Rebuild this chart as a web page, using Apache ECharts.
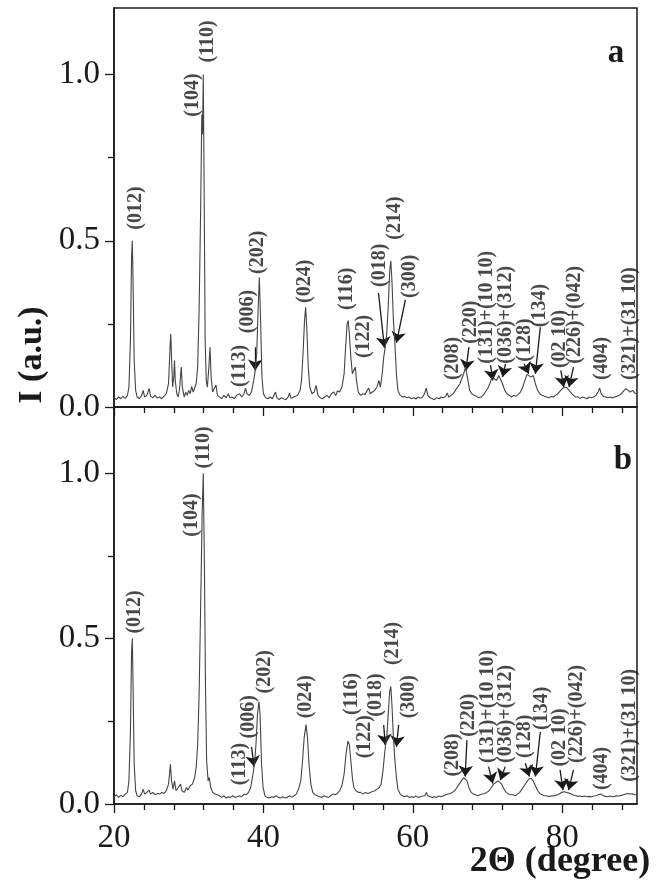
<!DOCTYPE html>
<html>
<head>
<meta charset="utf-8">
<script src="https://cdn.jsdelivr.net/npm/echarts@6/dist/echarts.min.js"></script>
<style>
html, body { margin: 0; padding: 0; background: #fff; }
#chart { width: 665px; height: 883px; }
</style>
</head>
<body>
<div id="chart"></div>
<script>
// pattern a: [2theta, intensity]
var patternA = [
	[20.0,0.028],[20.3,0.022],[20.6,0.030],[20.9,0.025],[21.2,0.032],[21.5,0.026],[21.8,0.035],[22.0,0.06],[22.2,0.2],[22.35,0.45],[22.45,0.50],[22.55,0.38],[22.7,0.14],[22.9,0.05],
	[23.1,0.03],[23.4,0.025],[23.7,0.035],[23.9,0.05],[24.1,0.03],[24.4,0.035],[24.7,0.056],[24.9,0.032],[25.2,0.028],[25.5,0.035],[25.8,0.027],[26.1,0.030],[26.4,0.025],[26.7,0.033],
	[27.0,0.04],[27.3,0.07],[27.5,0.18],[27.6,0.22],[27.7,0.15],[27.85,0.06],[28.0,0.09],[28.1,0.14],[28.2,0.08],[28.4,0.04],[28.6,0.03],[28.8,0.06],[29.0,0.12],[29.15,0.06],
	[29.4,0.03],[29.6,0.045],[29.8,0.035],[30.0,0.05],[30.2,0.04],[30.4,0.062],[30.6,0.045],[30.8,0.05],[31.0,0.07],[31.2,0.12],[31.4,0.3],[31.6,0.6],[31.75,0.88],[31.85,0.82],
	[31.95,1.0],[32.05,0.7],[32.2,0.2],[32.35,0.08],[32.5,0.06],[32.7,0.12],[32.85,0.18],[33.0,0.09],[33.2,0.045],[33.4,0.04],[33.65,0.066],[33.85,0.035],[34.1,0.03],[34.4,0.025],
	[34.7,0.035],[35.0,0.028],[35.3,0.04],[35.5,0.028],[35.8,0.03],[36.1,0.025],[36.4,0.035],[36.8,0.04],[37.1,0.03],[37.4,0.04],[37.6,0.057],[37.8,0.04],[38.1,0.035],[38.4,0.045],
	[38.7,0.08],[38.9,0.11],[39.1,0.16],[39.3,0.3],[39.45,0.39],[39.6,0.28],[39.8,0.09],[40.0,0.04],[40.3,0.028],[40.6,0.025],[40.9,0.03],[41.2,0.025],[41.4,0.03],[41.6,0.045],
	[41.8,0.028],[42.1,0.022],[42.4,0.028],[42.7,0.025],[43.0,0.022],[43.3,0.03],[43.5,0.042],[43.7,0.026],[44.0,0.03],[44.3,0.032],[44.6,0.036],[44.9,0.05],[45.1,0.08],[45.3,0.16],
	[45.5,0.26],[45.65,0.30],[45.8,0.24],[46.0,0.12],[46.2,0.06],[46.5,0.04],[46.8,0.045],[47.05,0.065],[47.3,0.035],[47.6,0.028],[47.9,0.025],[48.2,0.03],[48.5,0.035],[48.8,0.028],
	[49.1,0.04],[49.4,0.045],[49.7,0.035],[49.9,0.048],[50.2,0.045],[50.5,0.06],[50.8,0.1],[51.0,0.18],[51.2,0.25],[51.35,0.26],[51.5,0.22],[51.7,0.15],[51.9,0.1],[52.1,0.1],
	[52.3,0.12],[52.45,0.08],[52.7,0.045],[53.0,0.035],[53.3,0.04],[53.6,0.038],[53.9,0.05],[54.1,0.057],[54.3,0.04],[54.6,0.045],[54.9,0.05],[55.2,0.06],[55.45,0.08],[55.65,0.06],
	[55.9,0.1],[56.1,0.15],[56.3,0.18],[56.5,0.22],[56.7,0.3],[56.9,0.41],[57.05,0.44],[57.2,0.38],[57.4,0.26],[57.6,0.19],[57.8,0.1],[58.0,0.05],[58.3,0.035],[58.6,0.03],
	[58.9,0.032],[59.2,0.028],[59.5,0.03],[59.8,0.025],[60.1,0.028],[60.4,0.024],[60.7,0.03],[61.0,0.026],[61.3,0.03],[61.55,0.04],[61.8,0.057],[62.0,0.035],[62.3,0.028],[62.6,0.025],
	[62.9,0.022],[63.2,0.028],[63.5,0.025],[63.8,0.03],[64.1,0.028],[64.4,0.032],[64.6,0.042],[64.8,0.03],[65.1,0.035],[65.4,0.04],[65.7,0.05],[66.0,0.06],[66.3,0.07],[66.5,0.065],
	[66.8,0.1],[67.05,0.12],[67.3,0.09],[67.6,0.05],[67.9,0.04],[68.2,0.035],[68.5,0.032],[68.8,0.028],[69.1,0.03],[69.4,0.035],[69.7,0.045],[70.0,0.055],[70.3,0.07],[70.6,0.09],
	[70.9,0.085],[71.2,0.08],[71.5,0.095],[71.75,0.096],[72.0,0.07],[72.3,0.05],[72.6,0.04],[72.9,0.035],[73.2,0.03],[73.5,0.035],[73.8,0.032],[74.1,0.038],[74.4,0.045],[74.7,0.06],
	[75.0,0.08],[75.3,0.098],[75.55,0.10],[75.8,0.09],[76.1,0.095],[76.4,0.07],[76.7,0.05],[77.0,0.04],[77.3,0.035],[77.6,0.032],[77.9,0.03],[78.2,0.028],[78.5,0.032],[78.8,0.03],
	[79.1,0.035],[79.4,0.04],[79.7,0.048],[80.0,0.055],[80.3,0.06],[80.6,0.058],[80.9,0.05],[81.2,0.042],[81.5,0.035],[81.8,0.03],[82.1,0.03],[82.4,0.026],[82.7,0.03],[83.0,0.028],
	[83.3,0.025],[83.6,0.03],[83.9,0.028],[84.2,0.03],[84.5,0.035],[84.8,0.045],[85.0,0.057],[85.2,0.04],[85.5,0.032],[85.8,0.03],[86.1,0.028],[86.4,0.03],[86.7,0.027],[87.0,0.03],
	[87.3,0.032],[87.6,0.035],[87.9,0.04],[88.2,0.048],[88.5,0.055],[88.8,0.05],[89.1,0.045],[89.4,0.05],[89.7,0.042],[90.0,0.04]
];

// pattern b
var patternB = [
	[20.0,0.022],[20.3,0.028],[20.6,0.020],[20.9,0.026],[21.2,0.022],[21.5,0.03],[21.8,0.035],[22.0,0.07],[22.2,0.22],[22.35,0.46],[22.45,0.50],[22.55,0.36],[22.7,0.12],[22.9,0.04],
	[23.1,0.025],[23.4,0.022],[23.7,0.03],[23.9,0.045],[24.1,0.03],[24.4,0.035],[24.7,0.042],[24.9,0.03],[25.2,0.035],[25.5,0.028],[25.8,0.032],[26.1,0.03],[26.4,0.035],[26.7,0.032],
	[27.0,0.04],[27.3,0.06],[27.55,0.12],[27.7,0.07],[27.9,0.045],[28.1,0.07],[28.3,0.04],[28.6,0.05],[28.9,0.06],[29.1,0.04],[29.4,0.035],[29.7,0.05],[29.9,0.042],[30.2,0.055],
	[30.5,0.06],[30.8,0.08],[31.0,0.11],[31.2,0.18],[31.4,0.34],[31.6,0.6],[31.8,0.88],[31.95,1.0],[32.1,0.72],[32.25,0.35],[32.4,0.13],[32.6,0.07],[32.75,0.08],[32.95,0.05],
	[33.2,0.035],[33.5,0.03],[33.8,0.028],[34.1,0.025],[34.4,0.02],[34.7,0.025],[35.0,0.018],[35.3,0.022],[35.6,0.02],[35.9,0.025],[36.2,0.02],[36.5,0.022],[36.8,0.025],[37.1,0.022],
	[37.4,0.03],[37.7,0.028],[38.0,0.035],[38.3,0.05],[38.6,0.09],[38.8,0.12],[39.0,0.18],[39.2,0.27],[39.4,0.31],[39.55,0.27],[39.75,0.12],[39.95,0.05],[40.2,0.025],[40.5,0.02],
	[40.8,0.018],[41.1,0.022],[41.4,0.02],[41.7,0.025],[42.0,0.02],[42.3,0.018],[42.6,0.022],[42.9,0.018],[43.2,0.02],[43.5,0.025],[43.8,0.02],[44.1,0.025],[44.4,0.03],[44.7,0.045],
	[45.0,0.07],[45.2,0.12],[45.45,0.2],[45.7,0.24],[45.9,0.2],[46.1,0.12],[46.35,0.06],[46.6,0.035],[46.9,0.028],[47.2,0.025],[47.5,0.022],[47.8,0.02],[48.1,0.025],[48.4,0.022],
	[48.7,0.02],[49.0,0.025],[49.3,0.03],[49.6,0.028],[49.9,0.032],[50.2,0.04],[50.5,0.055],[50.8,0.09],[51.05,0.15],[51.3,0.19],[51.5,0.18],[51.7,0.13],[51.9,0.08],[52.1,0.05],
	[52.4,0.04],[52.7,0.035],[53.0,0.035],[53.3,0.03],[53.6,0.035],[53.8,0.04],[54.0,0.032],[54.3,0.035],[54.6,0.038],[54.9,0.04],[55.2,0.045],[55.5,0.05],[55.75,0.06],[56.0,0.1],
	[56.3,0.17],[56.5,0.2],[56.7,0.27],[56.9,0.34],[57.05,0.355],[57.2,0.3],[57.4,0.2],[57.6,0.13],[57.8,0.08],[58.0,0.045],[58.3,0.03],[58.6,0.025],[58.9,0.022],[59.2,0.025],
	[59.5,0.02],[59.8,0.022],[60.1,0.02],[60.4,0.024],[60.7,0.02],[61.0,0.022],[61.3,0.024],[61.6,0.025],[61.8,0.035],[62.0,0.025],[62.3,0.022],[62.6,0.02],[62.9,0.022],[63.2,0.02],
	[63.5,0.024],[63.8,0.022],[64.1,0.025],[64.4,0.028],[64.7,0.03],[65.0,0.032],[65.3,0.035],[65.6,0.04],[65.9,0.05],[66.2,0.06],[66.5,0.07],[66.8,0.08],[67.0,0.083],[67.25,0.07],
	[67.5,0.05],[67.8,0.035],[68.1,0.03],[68.4,0.028],[68.7,0.025],[69.0,0.028],[69.3,0.03],[69.6,0.032],[69.9,0.035],[70.2,0.04],[70.5,0.05],[70.8,0.06],[71.1,0.065],[71.4,0.07],
	[71.65,0.072],[71.9,0.06],[72.2,0.045],[72.5,0.035],[72.8,0.03],[73.1,0.028],[73.4,0.028],[73.7,0.025],[74.0,0.03],[74.3,0.035],[74.6,0.045],[74.9,0.055],[75.2,0.065],[75.5,0.075],
	[75.8,0.078],[76.1,0.07],[76.4,0.055],[76.7,0.04],[77.0,0.032],[77.3,0.028],[77.6,0.025],[77.9,0.025],[78.2,0.022],[78.5,0.025],[78.8,0.024],[79.1,0.026],[79.4,0.028],[79.7,0.032],
	[80.0,0.036],[80.3,0.037],[80.6,0.035],[80.9,0.033],[81.2,0.03],[81.5,0.027],[81.8,0.025],[82.1,0.023],[82.4,0.024],[82.7,0.022],[83.0,0.024],[83.3,0.022],[83.6,0.023],[83.9,0.022],
	[84.2,0.024],[84.5,0.025],[84.8,0.028],[85.0,0.033],[85.2,0.03],[85.5,0.025],[85.8,0.023],[86.1,0.022],[86.4,0.024],[86.7,0.022],[87.0,0.023],[87.3,0.025],[87.6,0.024],[87.9,0.026],
	[88.2,0.028],[88.5,0.03],[88.8,0.032],[89.1,0.03],[89.4,0.031],[89.7,0.028],[90.0,0.027]
];

// peak labels: [text, 2theta, intensity at label start]
var labelsA = [
	['(012)', 22.96, 0.533], ['(104)', 30.6, 0.873], ['(110)', 32.6, 1.036], ['(113)', 36.9, 0.06],
	['(006)', 37.9, 0.222], ['(202)', 39.3, 0.40], ['(024)', 45.6, 0.313], ['(116)', 51.2, 0.292],
	['(122)', 53.4, 0.147], ['(018)', 55.6, 0.361], ['(214)', 57.6, 0.503], ['(300)', 59.6, 0.328],
	['(208)', 65.4, 0.081], ['(220)', 67.7, 0.19], ['(131)+(10 10)', 69.9, 0.13], ['(036)+(312)', 72.4, 0.13],
	['(128)', 75.05, 0.136], ['(134)', 77.06, 0.24], ['(02 10)', 79.7, 0.117], ['(226)+(042)', 81.7, 0.13],
	['(404)', 85.3, 0.081], ['(321)+(31 10)', 89.1, 0.081]
];
var labelsB = [
	['(012)', 22.8, 0.515], ['(104)', 30.4, 0.808], ['(110)', 31.96, 1.014], ['(113)', 36.9, 0.057],
	['(006)', 38.0, 0.198], ['(202)', 40.2, 0.334], ['(024)', 45.7, 0.259], ['(116)', 51.8, 0.269],
	['(122)', 53.6, 0.138], ['(018)', 55.0, 0.264], ['(214)', 57.3, 0.42], ['(300)', 59.4, 0.259],
	['(208)', 65.4, 0.083], ['(220)', 67.5, 0.203], ['(131)+(10 10)', 70.1, 0.124], ['(036)+(312)', 72.4, 0.124],
	['(128)', 75.05, 0.139], ['(134)', 77.3, 0.224], ['(02 10)', 79.7, 0.113], ['(226)+(042)', 82.0, 0.124],
	['(404)', 85.3, 0.042], ['(321)+(31 10)', 89.1, 0.067]
];

// arrows: [x1, y1, x2, y2]
var arrowsA = [
	[38.9, 0.18, 38.9, 0.11], [55.4, 0.343, 56.2, 0.178], [59.0, 0.322, 57.8, 0.193], [67.5, 0.18, 67.1, 0.11],
	[70.4, 0.126, 70.7, 0.08], [72.4, 0.13, 72.0, 0.09], [74.9, 0.13, 75.5, 0.10], [77.06, 0.24, 76.4, 0.10],
	[79.8, 0.11, 80.2, 0.06], [81.5, 0.12, 80.9, 0.06]
];
var arrowsB = [
	[38.4, 0.173, 38.75, 0.113], [56.1, 0.239, 56.3, 0.178], [58.1, 0.239, 57.8, 0.173], [67.24, 0.193, 67.0, 0.083],
	[70.13, 0.113, 70.7, 0.062], [72.36, 0.113, 71.7, 0.072], [75.05, 0.123, 75.6, 0.083], [77.06, 0.218, 76.4, 0.083],
	[79.7, 0.103, 80.1, 0.042], [81.5, 0.103, 80.85, 0.042]
];

var xMajor = [20, 40, 60, 80];
var xMinor = [24, 28, 32, 36, 44, 48, 52, 56, 64, 68, 72, 76, 84, 88];
var yMajor = [0, 0.5, 1.0];
var yMinor = [0.25, 0.75];

var serif = '"Liberation Serif", "Times New Roman", serif';
var ink = '#1a1a1a';

var chart = echarts.init(document.getElementById('chart'));

function xAxisPair(gridIndex, withLabels) {
	return [{
		type: 'value', gridIndex: gridIndex, position: 'bottom', min: 20, max: 90, interval: 4,
		axisLine: { show: true, onZero: false, lineStyle: { color: ink, width: 1.5 } },
		axisTick: { show: true, inside: false, length: 6, customValues: xMinor, lineStyle: { color: ink, width: 1.3 } },
		axisLabel: { show: false },
		splitLine: { show: false }
	}, {
		type: 'value', gridIndex: gridIndex, position: 'bottom', min: 20, max: 90, interval: 20,
		axisLine: { show: false, onZero: false },
		axisTick: { show: true, inside: false, length: 9, customValues: xMajor, lineStyle: { color: ink, width: 1.3 } },
		axisLabel: {
			show: withLabels, customValues: xMajor, margin: 18,
			fontFamily: serif, fontSize: 33, color: ink
		},
		splitLine: { show: false }
	}];
}

function yAxisPair(gridIndex) {
	return [{
		type: 'value', gridIndex: gridIndex, position: 'left', min: 0, max: 1.2, interval: 0.5,
		axisLine: { show: true, onZero: false, lineStyle: { color: ink, width: 1.5 } },
		axisTick: { show: true, inside: false, length: 9, customValues: yMajor, lineStyle: { color: ink, width: 1.3 } },
		axisLabel: {
			show: true, customValues: yMajor, margin: 14,
			fontFamily: serif, fontSize: 33, color: ink,
			formatter: function (v) { return v.toFixed(1); }
		},
		splitLine: { show: false }
	}, {
		type: 'value', gridIndex: gridIndex, position: 'left', min: 0, max: 1.2, interval: 0.25,
		axisLine: { show: false, onZero: false },
		axisTick: { show: true, inside: false, length: 6, customValues: yMinor, lineStyle: { color: ink, width: 1.3 } },
		axisLabel: { show: false },
		splitLine: { show: false }
	}];
}

function labelSeries(list, axisIndex) {
	return {
		type: 'scatter', xAxisIndex: axisIndex, yAxisIndex: axisIndex,
		symbolSize: 1, itemStyle: { color: 'rgba(0,0,0,0)' }, silent: true,
		data: list.map(function (d) { return { name: d[0], value: [d[1], d[2]] }; }),
		label: {
			show: true, position: 'inside', rotate: 90, align: 'left', verticalAlign: 'middle',
			formatter: '{b}', fontFamily: serif, fontWeight: 'bold', fontSize: 20, color: ink
		},
		labelLayout: { hideOverlap: false }
	};
}

function arrowSeries(list, axisIndex) {
	return {
		type: 'lines', coordinateSystem: 'cartesian2d', xAxisIndex: axisIndex, yAxisIndex: axisIndex,
		symbol: ['none', 'arrow'], symbolSize: 11, silent: true,
		lineStyle: { color: ink, width: 1.3, opacity: 1 },
		data: list.map(function (a) { return { coords: [[a[0], a[1]], [a[2], a[3]]] }; })
	};
}

function patternSeries(data, axisIndex) {
	return {
		type: 'line', xAxisIndex: axisIndex, yAxisIndex: axisIndex,
		showSymbol: false, symbol: 'none', smooth: false,
		lineStyle: { color: '#444', width: 1.1 },
		data: data
	};
}

var option = {
	backgroundColor: '#fff',
	animation: false,
	grid: [
		{ left: 114, top: 8, width: 523, height: 399, show: true, borderColor: ink, borderWidth: 1.5, backgroundColor: 'transparent' },
		{ left: 114, top: 407, width: 523, height: 397, show: true, borderColor: ink, borderWidth: 1.5, backgroundColor: 'transparent' }
	],
	xAxis: xAxisPair(0, false).concat(xAxisPair(1, true)),
	yAxis: yAxisPair(0).concat(yAxisPair(1)),
	series: [
		patternSeries(patternA, 0),
		patternSeries(patternB, 2),
		labelSeries(labelsA, 0),
		labelSeries(labelsB, 2),
		arrowSeries(arrowsA, 0),
		arrowSeries(arrowsB, 2)
	],
	graphic: [
		{
			type: 'text', x: 32, y: 355, rotation: Math.PI / 2,
			style: { text: 'I (a.u.)', fontFamily: serif, fontWeight: 'bold', fontSize: 34, fill: ink, align: 'center', verticalAlign: 'middle' }
		},
		{
			type: 'text', x: 560, y: 862,
			style: { text: '2\u0398 (degree)', fontFamily: serif, fontWeight: 'bold', fontSize: 36, fill: ink, align: 'center', verticalAlign: 'middle' }
		},
		{
			type: 'text', x: 616, y: 53,
			style: { text: 'a', fontFamily: serif, fontWeight: 'bold', fontSize: 33, fill: ink, align: 'center', verticalAlign: 'middle' }
		},
		{
			type: 'text', x: 623, y: 460,
			style: { text: 'b', fontFamily: serif, fontWeight: 'bold', fontSize: 33, fill: ink, align: 'center', verticalAlign: 'middle' }
		}
	]
};

chart.setOption(option);
</script>
</body>
</html>
